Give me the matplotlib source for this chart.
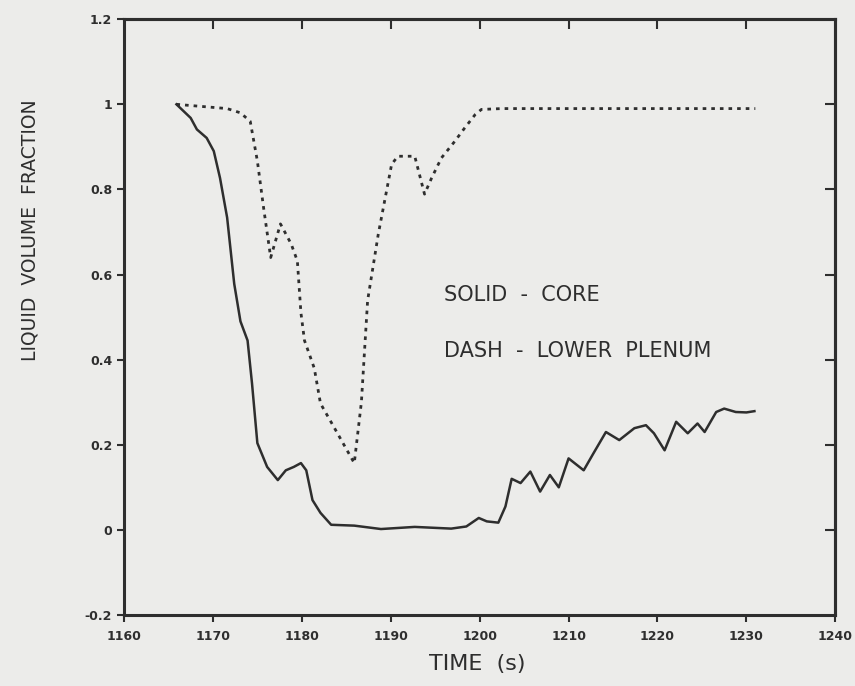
import matplotlib.pyplot as plt

# core liquid fraction (solid)
core_t = [1165.9, 1167.5, 1168.2, 1169.3, 1170.1, 1170.8, 1171.6, 1172.4, 1173.1,
          1173.9, 1174.4, 1175.0, 1176.1, 1177.3, 1178.2, 1179.1, 1179.9, 1180.5,
          1181.2, 1182.1, 1183.3, 1185.9, 1188.9, 1192.7, 1196.8, 1198.5, 1199.9,
          1200.8, 1202.1, 1202.9, 1203.6, 1204.6, 1205.7, 1206.8, 1207.9, 1208.9,
          1210.0, 1211.7, 1212.8, 1214.2, 1215.7, 1217.4, 1218.7, 1219.6, 1220.8,
          1222.1, 1223.4, 1224.5, 1225.3, 1226.6, 1227.5, 1228.8, 1230.0, 1230.9]
core_v = [1.0, 0.968, 0.941, 0.921, 0.89, 0.827, 0.734, 0.578, 0.49,
          0.445, 0.344, 0.204, 0.148, 0.117, 0.14, 0.148, 0.157, 0.14,
          0.07, 0.04, 0.012, 0.01, 0.002, 0.007, 0.003, 0.008, 0.028,
          0.02, 0.017, 0.055, 0.12, 0.11, 0.137, 0.09, 0.129, 0.10,
          0.168, 0.14, 0.18, 0.23, 0.211, 0.239, 0.246, 0.227, 0.187,
          0.254, 0.227, 0.25, 0.23, 0.277, 0.285, 0.277, 0.276, 0.279]

# lower plenum liquid fraction (dashed)
plen_t = [1165.9, 1171.6, 1173.1, 1174.2, 1175.0, 1175.7, 1176.5, 1177.6, 1178.8,
          1179.5, 1179.9, 1180.3, 1181.4, 1182.1, 1183.6, 1185.9, 1186.7, 1187.4,
          1188.6, 1190.1, 1190.8, 1192.7, 1193.8, 1194.6, 1195.7, 1197.2, 1198.3,
          1199.5, 1200.2, 1202.5, 1231.0]
plen_v = [1.0, 0.99, 0.98, 0.96, 0.867, 0.757, 0.64, 0.719, 0.672,
          0.632, 0.51, 0.445, 0.38, 0.297, 0.242, 0.157, 0.30, 0.539,
          0.695, 0.859, 0.878, 0.878, 0.789, 0.827, 0.874, 0.913, 0.944,
          0.976, 0.988, 0.99, 0.99]

xticks = [1160, 1170, 1180, 1190, 1200, 1210, 1220, 1230, 1240]
yticks = [-0.2, 0, 0.2, 0.4, 0.6, 0.8, 1.0, 1.2]
ylabels = ['-0.2', '0', '0.2', '0.4', '0.6', '0.8', '1', '1.2']

bg = '#ececea'
ink = '#2e2e2e'

fig = plt.figure(figsize=(8.55, 6.86), dpi=100, facecolor=bg)
ax = fig.add_axes([0.145, 0.1035, 0.832, 0.8685], facecolor=bg)

ax.plot(core_t, core_v, color=ink, lw=1.8)
ax.plot(plen_t, plen_v, color=ink, lw=2.0, linestyle=(0, (1.3, 1.8)))

ax.set_xlim(1160, 1240)
ax.set_ylim(-0.2, 1.2)
ax.set_xticks(xticks)
ax.set_yticks(yticks)
ax.set_yticklabels(ylabels)
ax.tick_params(axis='both', direction='out', length=5, width=1.5, color=ink,
               labelsize=9, labelcolor=ink)
ax.tick_params(axis='x', pad=6)
for lbl in ax.get_xticklabels() + ax.get_yticklabels():
    lbl.set_fontweight('bold')

# inward ticks on the top and right edges
top = ax.secondary_xaxis('top')
top.set_xticks(xticks[1:-1])
top.tick_params(direction='in', length=7, width=1.5, color=ink, labeltop=False)
right = ax.secondary_yaxis('right')
right.set_yticks([0, 0.2, 0.4, 0.6, 0.8, 1.0])
right.tick_params(direction='in', length=7, width=1.5, color=ink, labelright=False)
for a in (ax, top, right):
    for s in a.spines.values():
        s.set_linewidth(2.2)
        s.set_color(ink)

ax.text(1196.0, 0.552, 'SOLID  -  CORE', fontsize=15, color=ink, va='center')
ax.text(1196.0, 0.42, 'DASH  -  LOWER  PLENUM', fontsize=15, color=ink, va='center')

fig.text(30 / 855, 1 - 230 / 686, 'LIQUID  VOLUME  FRACTION', rotation=90,
         fontsize=13.5, color=ink, ha='center', va='center')
fig.text(477 / 855, 1 - 664 / 686, 'TIME  (s)', fontsize=16, color=ink,
         ha='center', va='center')

fig.savefig('out.png', dpi=100, facecolor=bg)
